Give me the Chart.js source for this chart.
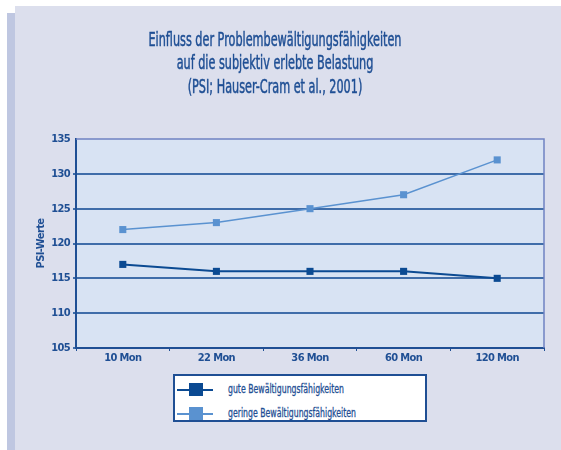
<!DOCTYPE html>
<html>
<head>
<meta charset="utf-8">
<script src="https://cdn.jsdelivr.net/npm/chart.js@4"></script>
<style>
  html, body { margin: 0; padding: 0; background: #fff; }
  #wrap { position: relative; width: 561px; height: 450px; overflow: hidden; }
  #panel { position: absolute; left: 15px; top: 6px; width: 546px; height: 444px; background: #dcdfed; }
  #stripe { position: absolute; left: 7px; top: 13px; width: 8px; height: 437px; background: #bfc7e1; }
  #chart { position: absolute; left: 0; top: 0; }
  #legend { position: absolute; left: 173px; top: 374px; width: 250px; height: 44px;
            background: #fff; border: 2px solid #1f4f94;
            font-family: "DejaVu Sans Condensed", sans-serif;
            font-size: 12px; color: #1f4f94; }
  .item { position: absolute; left: 0; height: 14px; width: 250px; }
  .item .ln { position: absolute; left: 2px; width: 36px; top: 6px; height: 2px; }
  .item .sq { position: absolute; left: 14px; top: 0; width: 14px; height: 13px; }
  .item .tx { position: absolute; left: 53px; top: -1px; white-space: nowrap;
              -webkit-text-stroke: 0.3px #1f4f94;
              transform: scaleX(0.72); transform-origin: 0 0; }
</style>
</head>
<body>
<div id="wrap">
  <div id="panel"></div>
  <div id="stripe"></div>
  <canvas id="chart" width="561" height="450"></canvas>
  <div id="legend"></div>
</div>
<script>
var categories = ['10 Mon', '22 Mon', '36 Mon', '60 Mon', '120 Mon'];
var seriesNames = ['gute Bewältigungsfähigkeiten', 'geringe Bewältigungsfähigkeiten'];
var guteValues = [117, 116, 116, 116, 115];
var geringeValues = [122, 123, 125, 127, 132];
var seriesColors = ['#0b4a92', '#5a92d0'];
var titleLines = ['Einfluss der Problembewältigungsfähigkeiten', 'auf die subjektiv erlebte Belastung', '(PSI; Hauser-Cram et al., 2001)'];

var FONT = '"DejaVu Sans Condensed", sans-serif';
var INK = '#1f4f94';

// plot background, light top/right frame and a narrow title
var decor = {
  id: 'decor',
  beforeDraw: function (chart) {
    var a = chart.chartArea, ctx = chart.ctx;
    ctx.save();
    ctx.fillStyle = '#d8e3f3';
    ctx.fillRect(a.left, a.top, a.right - a.left, a.bottom - a.top);
    ctx.restore();
    ctx.letterSpacing = '-0.6px';
  },
  afterDatasetsDraw: function (chart) {
    var a = chart.chartArea, ctx = chart.ctx;
    ctx.save();
    ctx.strokeStyle = '#6f83c2';
    ctx.lineWidth = 1.5;
    ctx.beginPath();
    ctx.moveTo(a.left, a.top);
    ctx.lineTo(a.right, a.top);
    ctx.lineTo(a.right, a.bottom);
    ctx.stroke();
    ctx.restore();
  },
  afterDraw: function (chart) {
    var ctx = chart.ctx;
    ctx.save();
    ctx.letterSpacing = '0px';
    ctx.font = '19px ' + FONT;
    ctx.fillStyle = INK;
    ctx.strokeStyle = INK;
    ctx.lineWidth = 0.5;
    ctx.textAlign = 'center';
    ctx.textBaseline = 'middle';
    var sx = 253 / ctx.measureText(titleLines[0]).width;
    ctx.scale(sx, 1);
    titleLines.forEach(function (t, i) {
      ctx.fillText(t, 275 / sx, 41 + i * 23.5);
      ctx.strokeText(t, 275 / sx, 41 + i * 23.5);
    });
    ctx.restore();
  }
};

var config = {
  type: 'line',
  data: {
    labels: categories,
    datasets: [{
      label: seriesNames[0],
      data: guteValues,
      borderColor: seriesColors[0],
      backgroundColor: seriesColors[0],
      borderWidth: 2,
      pointStyle: 'rect',
      pointRadius: 5,
      pointBorderWidth: 0,
      tension: 0
    }, {
      label: seriesNames[1],
      data: geringeValues,
      borderColor: seriesColors[1],
      backgroundColor: seriesColors[1],
      borderWidth: 1.5,
      pointStyle: 'rect',
      pointRadius: 5,
      pointBorderWidth: 0,
      tension: 0
    }]
  },
  options: {
    responsive: false,
    animation: false,
    layout: { padding: { left: 7, right: 17, top: 139, bottom: 82 } },
    plugins: {
      legend: { display: false },
      tooltip: { enabled: false },
      title: { display: false }
    },
    scales: {
      x: {
        offset: true,
        grid: { offset: true, drawOnChartArea: false, tickLength: 3, color: INK, lineWidth: 1 },
        border: { color: INK, width: 2 },
        ticks: { color: INK, font: { family: FONT, size: 11, weight: 'bold' }, padding: 1 },
        afterFit: function (s) { s.height = 20; }
      },
      y: {
        min: 105,
        max: 135,
        ticks: { stepSize: 5, color: INK, font: { family: FONT, size: 11, weight: 'bold' }, padding: 3 },
        grid: {
          color: function (c) { return c.tick && c.tick.value === 135 ? 'rgba(0,0,0,0)' : '#3f6da9'; },
          lineWidth: 2,
          tickLength: 3
        },
        border: { color: INK, width: 2 },
        title: {
          display: true,
          text: 'PSI-Werte',
          color: INK,
          font: { family: FONT, size: 11, weight: 'bold' },
          padding: { top: 28, bottom: 0 }
        },
        afterFit: function (s) { s.width = 69; }
      }
    }
  },
  plugins: [decor]
};

window.onload = function () {
  var ctx = document.getElementById('chart').getContext('2d');
  window.myLine = new Chart(ctx, config);

  var legend = document.getElementById('legend');
  var tops = [7, 31];
  seriesNames.forEach(function (name, i) {
    var it = document.createElement('div');
    it.className = 'item';
    it.style.top = tops[i] + 'px';
    it.innerHTML = '<div class="ln" style="background:' + seriesColors[i] + '"></div>' +
      '<div class="sq" style="background:' + seriesColors[i] + '"></div>' +
      '<div class="tx">' + name + '</div>';
    legend.appendChild(it);
  });
};
</script>
</body>
</html>
